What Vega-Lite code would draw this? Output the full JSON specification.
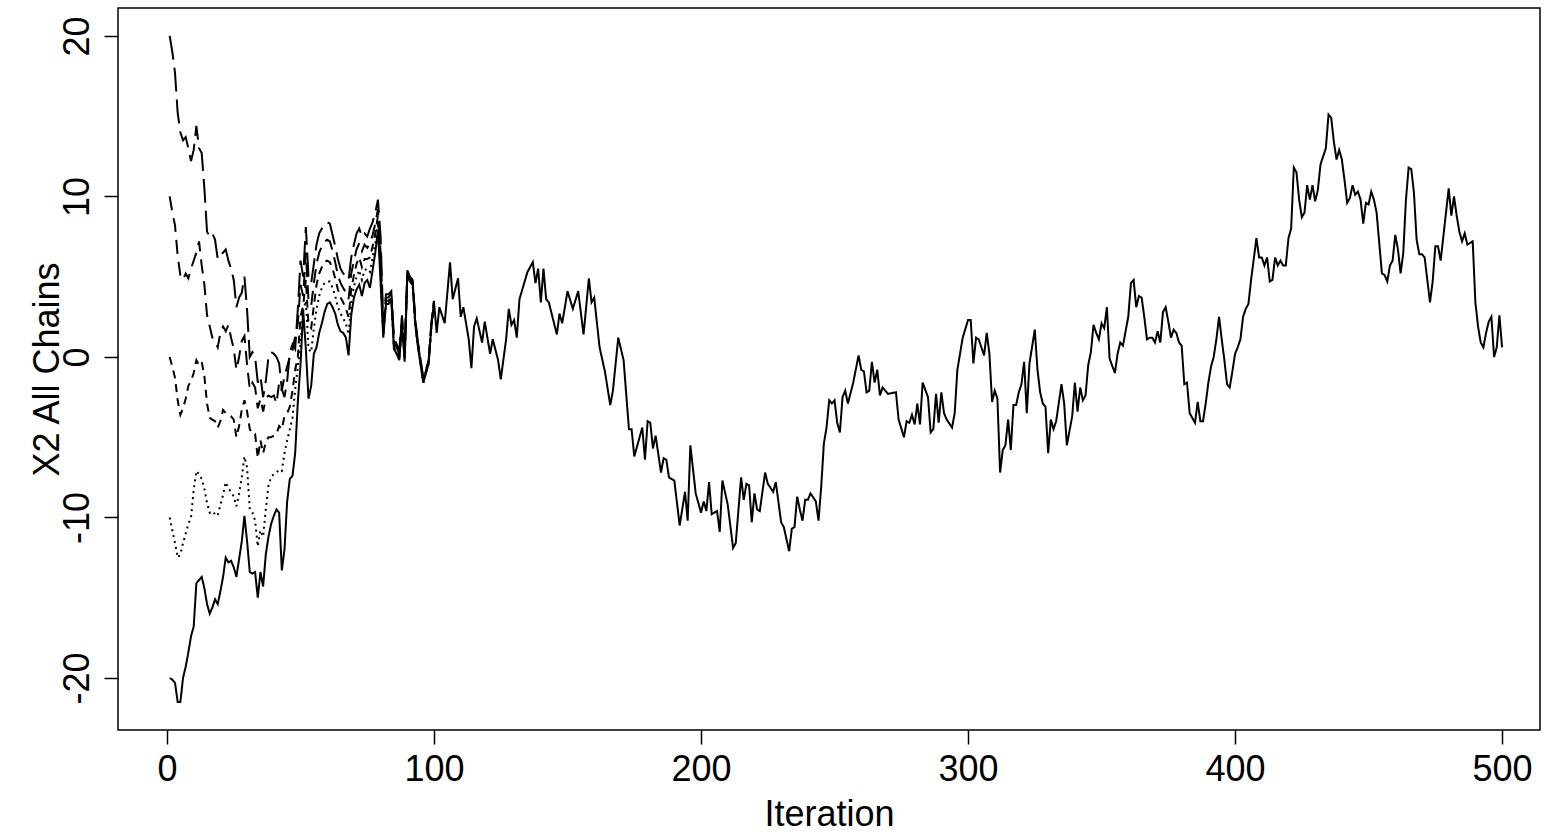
{
  "$schema": "https://vega.github.io/schema/vega-lite/v6.json",
  "width": 1422,
  "height": 722,
  "autosize": {"type": "none"},
  "padding": {"left": 118, "top": 8, "right": 18, "bottom": 105},
  "background": "white",
  "config": {
    "view": {"stroke": "black", "strokeWidth": 1.5},
    "font": "Liberation Sans",
    "axis": {"labelFont": "Liberation Sans", "titleFont": "Liberation Sans", "labelColor": "black", "titleColor": "black", "tickColor": "black", "labelFontSize": 36, "titleFontSize": 36, "titleFontWeight": "normal", "grid": false, "domain": false, "tickSize": 14, "tickWidth": 1.5}
  },
  "data": {"values": [
{"chain":"E","it":1,"x2":-20.0},{"chain":"E","it":2,"x2":-20.1},{"chain":"E","it":3,"x2":-20.3},{"chain":"E","it":4,"x2":-21.5},{"chain":"E","it":5,"x2":-21.5},{"chain":"E","it":6,"x2":-20.0},{"chain":"E","it":7,"x2":-19.3},{"chain":"E","it":8,"x2":-18.4},{"chain":"E","it":9,"x2":-17.4},{"chain":"E","it":10,"x2":-16.8},
{"chain":"E","it":11,"x2":-14.1},{"chain":"E","it":12,"x2":-13.9},{"chain":"E","it":13,"x2":-13.7},{"chain":"E","it":14,"x2":-14.4},{"chain":"E","it":15,"x2":-15.4},{"chain":"E","it":16,"x2":-16.0},{"chain":"E","it":17,"x2":-15.6},{"chain":"E","it":18,"x2":-15.1},{"chain":"E","it":19,"x2":-15.4},{"chain":"E","it":20,"x2":-14.6},
{"chain":"E","it":21,"x2":-13.7},{"chain":"E","it":22,"x2":-12.5},{"chain":"E","it":23,"x2":-12.8},{"chain":"E","it":24,"x2":-12.7},{"chain":"E","it":25,"x2":-13.1},{"chain":"E","it":26,"x2":-13.7},{"chain":"E","it":27,"x2":-12.6},{"chain":"E","it":28,"x2":-11.5},{"chain":"E","it":29,"x2":-9.9},{"chain":"E","it":30,"x2":-11.5},
{"chain":"E","it":31,"x2":-13.4},{"chain":"E","it":32,"x2":-13.5},{"chain":"E","it":33,"x2":-13.4},{"chain":"E","it":34,"x2":-15.0},{"chain":"E","it":35,"x2":-13.4},{"chain":"E","it":36,"x2":-14.3},{"chain":"E","it":37,"x2":-12.3},{"chain":"E","it":38,"x2":-11.2},{"chain":"E","it":39,"x2":-10.4},{"chain":"E","it":40,"x2":-9.9},
{"chain":"E","it":41,"x2":-9.5},{"chain":"E","it":42,"x2":-9.7},{"chain":"E","it":43,"x2":-13.3},{"chain":"E","it":44,"x2":-12.0},{"chain":"E","it":45,"x2":-9.0},{"chain":"E","it":46,"x2":-7.6},{"chain":"E","it":47,"x2":-7.4},{"chain":"E","it":48,"x2":-6.0},{"chain":"E","it":49,"x2":-2.8},{"chain":"E","it":50,"x2":-0.5},
{"chain":"E","it":51,"x2":2.9},{"chain":"E","it":52,"x2":0.5},{"chain":"E","it":53,"x2":-2.6},{"chain":"E","it":54,"x2":-1.8},{"chain":"E","it":55,"x2":0.2},{"chain":"E","it":56,"x2":0.6},{"chain":"E","it":57,"x2":1.5},{"chain":"E","it":58,"x2":2.1},{"chain":"E","it":59,"x2":2.8},{"chain":"E","it":60,"x2":3.3},
{"chain":"E","it":61,"x2":3.4},{"chain":"E","it":62,"x2":3.1},{"chain":"E","it":63,"x2":2.7},{"chain":"E","it":64,"x2":2.0},{"chain":"E","it":65,"x2":1.6},{"chain":"E","it":66,"x2":1.5},{"chain":"E","it":67,"x2":1.2},{"chain":"E","it":68,"x2":0.1},{"chain":"E","it":69,"x2":2.6},{"chain":"E","it":70,"x2":3.7},
{"chain":"E","it":71,"x2":4.2},{"chain":"E","it":72,"x2":4.5},{"chain":"E","it":73,"x2":3.8},{"chain":"E","it":74,"x2":4.6},{"chain":"E","it":75,"x2":4.8},{"chain":"E","it":76,"x2":4.3},{"chain":"E","it":77,"x2":5.4},{"chain":"E","it":78,"x2":6.5},{"chain":"E","it":79,"x2":7.9},{"chain":"E","it":80,"x2":4.6},
{"chain":"E","it":81,"x2":1.2},{"chain":"E","it":82,"x2":3.3},{"chain":"E","it":83,"x2":3.3},{"chain":"E","it":84,"x2":3.6},{"chain":"E","it":85,"x2":0.5},{"chain":"E","it":86,"x2":0.2},{"chain":"E","it":87,"x2":-0.2},{"chain":"E","it":88,"x2":2.1},{"chain":"E","it":89,"x2":-0.3},{"chain":"E","it":90,"x2":5.1},
{"chain":"E","it":91,"x2":4.7},{"chain":"E","it":92,"x2":4.5},{"chain":"E","it":93,"x2":2.0},{"chain":"E","it":94,"x2":0.6},{"chain":"E","it":96,"x2":-1.6},{"chain":"E","it":98,"x2":-0.4},{"chain":"E","it":99,"x2":1.9},{"chain":"E","it":100,"x2":3.4},
{"chain":"E","it":101,"x2":1.5},{"chain":"E","it":102,"x2":3.1},{"chain":"E","it":104,"x2":2.1},{"chain":"E","it":106,"x2":5.9},{"chain":"E","it":107,"x2":3.6},{"chain":"E","it":109,"x2":4.9},{"chain":"E","it":110,"x2":2.5},{"chain":"E","it":111,"x2":3.1},{"chain":"E","it":113,"x2":1.1},{"chain":"E","it":114,"x2":-0.7},
{"chain":"E","it":115,"x2":1.9},{"chain":"E","it":116,"x2":2.4},{"chain":"E","it":118,"x2":0.9},{"chain":"E","it":119,"x2":2.2},{"chain":"E","it":121,"x2":0.2},{"chain":"E","it":122,"x2":1.1},{"chain":"E","it":124,"x2":-0.2},{"chain":"E","it":125,"x2":-1.4},{"chain":"E","it":127,"x2":1.1},{"chain":"E","it":128,"x2":3.0},
{"chain":"E","it":129,"x2":2.0},{"chain":"E","it":130,"x2":2.3},{"chain":"E","it":131,"x2":1.2},{"chain":"E","it":132,"x2":3.6},{"chain":"E","it":135,"x2":5.3},{"chain":"E","it":137,"x2":5.9},{"chain":"E","it":138,"x2":4.6},{"chain":"E","it":139,"x2":5.5},{"chain":"E","it":140,"x2":3.4},{"chain":"E","it":141,"x2":5.5},
{"chain":"E","it":142,"x2":3.6},{"chain":"E","it":143,"x2":3.4},{"chain":"E","it":146,"x2":1.4},{"chain":"E","it":147,"x2":2.7},{"chain":"E","it":148,"x2":2.1},{"chain":"E","it":150,"x2":4.1},{"chain":"E","it":152,"x2":3.0},{"chain":"E","it":154,"x2":4.1},{"chain":"E","it":156,"x2":1.4},{"chain":"E","it":158,"x2":4.9},
{"chain":"E","it":159,"x2":3.4},{"chain":"E","it":160,"x2":3.7},{"chain":"E","it":162,"x2":0.6},{"chain":"E","it":164,"x2":-0.9},{"chain":"E","it":166,"x2":-3.0},{"chain":"E","it":167,"x2":-2.1},{"chain":"E","it":169,"x2":1.2},{"chain":"E","it":171,"x2":-0.2},{"chain":"E","it":173,"x2":-4.5},{"chain":"E","it":174,"x2":-4.5},
{"chain":"E","it":175,"x2":-6.2},{"chain":"E","it":176,"x2":-5.6},{"chain":"E","it":178,"x2":-4.4},{"chain":"E","it":179,"x2":-6.4},{"chain":"E","it":180,"x2":-4.0},{"chain":"E","it":181,"x2":-4.1},{"chain":"E","it":182,"x2":-5.7},{"chain":"E","it":183,"x2":-4.9},{"chain":"E","it":185,"x2":-7.2},{"chain":"E","it":186,"x2":-6.3},
{"chain":"E","it":187,"x2":-6.4},{"chain":"E","it":188,"x2":-7.5},{"chain":"E","it":190,"x2":-7.7},{"chain":"E","it":192,"x2":-10.5},{"chain":"E","it":194,"x2":-8.4},{"chain":"E","it":195,"x2":-10.2},{"chain":"E","it":196,"x2":-5.5},{"chain":"E","it":198,"x2":-8.5},{"chain":"E","it":200,"x2":-9.7},{"chain":"E","it":201,"x2":-9.0},
{"chain":"E","it":202,"x2":-9.6},{"chain":"E","it":203,"x2":-7.8},{"chain":"E","it":204,"x2":-9.8},{"chain":"E","it":206,"x2":-9.6},{"chain":"E","it":207,"x2":-10.9},{"chain":"E","it":208,"x2":-7.7},{"chain":"E","it":210,"x2":-9.2},{"chain":"E","it":212,"x2":-11.9},{"chain":"E","it":213,"x2":-11.6},{"chain":"E","it":215,"x2":-7.5},
{"chain":"E","it":216,"x2":-8.9},{"chain":"E","it":217,"x2":-7.9},{"chain":"E","it":218,"x2":-8.0},{"chain":"E","it":219,"x2":-10.3},{"chain":"E","it":220,"x2":-8.5},{"chain":"E","it":221,"x2":-9.5},{"chain":"E","it":222,"x2":-9.6},{"chain":"E","it":224,"x2":-7.2},{"chain":"E","it":225,"x2":-7.9},{"chain":"E","it":227,"x2":-8.4},
{"chain":"E","it":228,"x2":-7.8},{"chain":"E","it":230,"x2":-10.3},{"chain":"E","it":231,"x2":-10.6},{"chain":"E","it":233,"x2":-12.1},{"chain":"E","it":234,"x2":-10.7},{"chain":"E","it":235,"x2":-10.6},{"chain":"E","it":236,"x2":-8.7},{"chain":"E","it":237,"x2":-9.5},{"chain":"E","it":238,"x2":-10.2},{"chain":"E","it":239,"x2":-8.9},
{"chain":"E","it":240,"x2":-8.9},{"chain":"E","it":241,"x2":-8.5},{"chain":"E","it":243,"x2":-9.0},{"chain":"E","it":244,"x2":-10.2},{"chain":"E","it":245,"x2":-8.1},{"chain":"E","it":246,"x2":-5.4},{"chain":"E","it":247,"x2":-4.4},{"chain":"E","it":248,"x2":-2.7},{"chain":"E","it":249,"x2":-2.9},{"chain":"E","it":250,"x2":-2.7},
{"chain":"E","it":251,"x2":-4.1},{"chain":"E","it":252,"x2":-4.7},{"chain":"E","it":253,"x2":-2.5},{"chain":"E","it":254,"x2":-2.1},{"chain":"E","it":255,"x2":-2.9},{"chain":"E","it":257,"x2":-1.6},{"chain":"E","it":259,"x2":0.1},{"chain":"E","it":260,"x2":-0.8},{"chain":"E","it":261,"x2":-0.9},{"chain":"E","it":262,"x2":-2.2},
{"chain":"E","it":263,"x2":-2.1},{"chain":"E","it":264,"x2":-0.3},{"chain":"E","it":265,"x2":-1.6},{"chain":"E","it":266,"x2":-0.8},{"chain":"E","it":267,"x2":-2.4},{"chain":"E","it":268,"x2":-1.9},{"chain":"E","it":270,"x2":-2.3},{"chain":"E","it":273,"x2":-2.2},{"chain":"E","it":274,"x2":-3.9},{"chain":"E","it":276,"x2":-5.0},
{"chain":"E","it":277,"x2":-4.0},{"chain":"E","it":278,"x2":-4.1},{"chain":"E","it":279,"x2":-3.6},{"chain":"E","it":280,"x2":-4.2},{"chain":"E","it":281,"x2":-2.9},{"chain":"E","it":282,"x2":-4.2},{"chain":"E","it":283,"x2":-1.6},{"chain":"E","it":285,"x2":-2.5},{"chain":"E","it":286,"x2":-4.7},{"chain":"E","it":287,"x2":-4.5},
{"chain":"E","it":288,"x2":-2.3},{"chain":"E","it":289,"x2":-4.1},{"chain":"E","it":290,"x2":-2.2},{"chain":"E","it":291,"x2":-3.5},{"chain":"E","it":292,"x2":-3.9},{"chain":"E","it":294,"x2":-4.4},{"chain":"E","it":295,"x2":-3.5},{"chain":"E","it":296,"x2":-0.8},{"chain":"E","it":298,"x2":1.2},{"chain":"E","it":300,"x2":2.3},
{"chain":"E","it":301,"x2":2.3},{"chain":"E","it":302,"x2":-0.4},{"chain":"E","it":303,"x2":1.2},{"chain":"E","it":304,"x2":1.1},{"chain":"E","it":306,"x2":0.1},{"chain":"E","it":307,"x2":1.5},{"chain":"E","it":308,"x2":0.2},{"chain":"E","it":309,"x2":-2.8},{"chain":"E","it":310,"x2":-2.1},{"chain":"E","it":311,"x2":-2.6},
{"chain":"E","it":312,"x2":-7.2},{"chain":"E","it":313,"x2":-5.8},{"chain":"E","it":314,"x2":-5.5},{"chain":"E","it":315,"x2":-3.9},{"chain":"E","it":316,"x2":-5.8},{"chain":"E","it":317,"x2":-3.0},{"chain":"E","it":318,"x2":-3.0},{"chain":"E","it":319,"x2":-2.2},{"chain":"E","it":320,"x2":-1.7},{"chain":"E","it":321,"x2":-0.3},
{"chain":"E","it":322,"x2":-3.5},{"chain":"E","it":323,"x2":-0.4},{"chain":"E","it":325,"x2":1.7},{"chain":"E","it":326,"x2":-0.8},{"chain":"E","it":327,"x2":-2.2},{"chain":"E","it":328,"x2":-2.9},{"chain":"E","it":329,"x2":-3.1},{"chain":"E","it":330,"x2":-6.0},{"chain":"E","it":331,"x2":-3.9},{"chain":"E","it":332,"x2":-4.5},
{"chain":"E","it":333,"x2":-4.0},{"chain":"E","it":335,"x2":-1.7},{"chain":"E","it":336,"x2":-2.9},{"chain":"E","it":337,"x2":-5.5},{"chain":"E","it":339,"x2":-3.7},{"chain":"E","it":340,"x2":-1.6},{"chain":"E","it":341,"x2":-3.4},{"chain":"E","it":342,"x2":-1.9},{"chain":"E","it":343,"x2":-2.7},{"chain":"E","it":344,"x2":-2.4},
{"chain":"E","it":345,"x2":-0.5},{"chain":"E","it":346,"x2":0.3},{"chain":"E","it":347,"x2":2.0},{"chain":"E","it":348,"x2":1.5},{"chain":"E","it":349,"x2":1.1},{"chain":"E","it":350,"x2":2.1},{"chain":"E","it":351,"x2":1.8},{"chain":"E","it":352,"x2":3.1},{"chain":"E","it":353,"x2":-0.1},{"chain":"E","it":355,"x2":-1.0},
{"chain":"E","it":356,"x2":0.2},{"chain":"E","it":357,"x2":0.9},{"chain":"E","it":358,"x2":0.7},{"chain":"E","it":360,"x2":2.5},{"chain":"E","it":361,"x2":4.6},{"chain":"E","it":362,"x2":4.8},{"chain":"E","it":363,"x2":3.1},{"chain":"E","it":364,"x2":3.8},{"chain":"E","it":365,"x2":3.7},{"chain":"E","it":366,"x2":2.5},
{"chain":"E","it":367,"x2":1.1},{"chain":"E","it":368,"x2":1.2},{"chain":"E","it":369,"x2":1.2},{"chain":"E","it":370,"x2":0.9},{"chain":"E","it":371,"x2":1.6},{"chain":"E","it":372,"x2":0.9},{"chain":"E","it":373,"x2":2.8},{"chain":"E","it":374,"x2":3.1},{"chain":"E","it":375,"x2":2.2},{"chain":"E","it":376,"x2":1.2},
{"chain":"E","it":377,"x2":1.7},{"chain":"E","it":378,"x2":1.5},{"chain":"E","it":379,"x2":0.9},{"chain":"E","it":380,"x2":0.7},{"chain":"E","it":381,"x2":-1.7},{"chain":"E","it":382,"x2":-1.6},{"chain":"E","it":383,"x2":-3.5},{"chain":"E","it":384,"x2":-3.8},{"chain":"E","it":385,"x2":-4.1},{"chain":"E","it":386,"x2":-2.8},
{"chain":"E","it":387,"x2":-4.0},{"chain":"E","it":388,"x2":-4.0},{"chain":"E","it":389,"x2":-2.9},{"chain":"E","it":390,"x2":-1.6},{"chain":"E","it":391,"x2":-0.6},{"chain":"E","it":392,"x2":0.0},{"chain":"E","it":393,"x2":1.1},{"chain":"E","it":394,"x2":2.5},{"chain":"E","it":395,"x2":1.1},{"chain":"E","it":396,"x2":-0.2},
{"chain":"E","it":397,"x2":-1.7},{"chain":"E","it":398,"x2":-1.9},{"chain":"E","it":399,"x2":-0.9},{"chain":"E","it":400,"x2":0.2},{"chain":"E","it":401,"x2":0.6},{"chain":"E","it":402,"x2":1.1},{"chain":"E","it":403,"x2":2.5},{"chain":"E","it":404,"x2":3.0},{"chain":"E","it":405,"x2":3.3},{"chain":"E","it":406,"x2":4.8},
{"chain":"E","it":408,"x2":7.4},{"chain":"E","it":409,"x2":6.2},{"chain":"E","it":410,"x2":6.2},{"chain":"E","it":411,"x2":5.7},{"chain":"E","it":412,"x2":6.2},{"chain":"E","it":413,"x2":4.7},{"chain":"E","it":414,"x2":4.8},{"chain":"E","it":415,"x2":6.2},{"chain":"E","it":416,"x2":5.7},{"chain":"E","it":417,"x2":6.0},
{"chain":"E","it":418,"x2":5.7},{"chain":"E","it":419,"x2":5.7},{"chain":"E","it":420,"x2":7.4},{"chain":"E","it":421,"x2":8.0},{"chain":"E","it":422,"x2":11.8},{"chain":"E","it":423,"x2":11.5},{"chain":"E","it":424,"x2":9.8},{"chain":"E","it":425,"x2":8.7},{"chain":"E","it":426,"x2":9.0},{"chain":"E","it":427,"x2":10.7},
{"chain":"E","it":428,"x2":9.8},{"chain":"E","it":429,"x2":10.7},{"chain":"E","it":430,"x2":9.7},{"chain":"E","it":431,"x2":10.4},{"chain":"E","it":432,"x2":12.0},{"chain":"E","it":433,"x2":12.5},{"chain":"E","it":434,"x2":13.0},{"chain":"E","it":435,"x2":15.1},{"chain":"E","it":436,"x2":14.9},{"chain":"E","it":437,"x2":13.4},
{"chain":"E","it":438,"x2":12.3},{"chain":"E","it":439,"x2":12.9},{"chain":"E","it":440,"x2":12.3},{"chain":"E","it":441,"x2":11.0},{"chain":"E","it":442,"x2":9.6},{"chain":"E","it":443,"x2":9.9},{"chain":"E","it":444,"x2":10.7},{"chain":"E","it":445,"x2":10.1},{"chain":"E","it":446,"x2":10.3},{"chain":"E","it":447,"x2":9.8},
{"chain":"E","it":448,"x2":8.3},{"chain":"E","it":449,"x2":9.6},{"chain":"E","it":450,"x2":9.5},{"chain":"E","it":451,"x2":10.3},{"chain":"E","it":452,"x2":9.8},{"chain":"E","it":453,"x2":9.0},{"chain":"E","it":454,"x2":7.1},{"chain":"E","it":455,"x2":5.2},{"chain":"E","it":456,"x2":5.1},{"chain":"E","it":457,"x2":4.7},
{"chain":"E","it":458,"x2":5.7},{"chain":"E","it":459,"x2":6.0},{"chain":"E","it":460,"x2":7.6},{"chain":"E","it":461,"x2":6.7},{"chain":"E","it":462,"x2":5.2},{"chain":"E","it":463,"x2":6.5},{"chain":"E","it":464,"x2":9.8},{"chain":"E","it":465,"x2":11.8},{"chain":"E","it":466,"x2":11.7},{"chain":"E","it":467,"x2":10.2},
{"chain":"E","it":468,"x2":7.3},{"chain":"E","it":469,"x2":6.4},{"chain":"E","it":470,"x2":6.4},{"chain":"E","it":471,"x2":6.2},{"chain":"E","it":472,"x2":4.8},{"chain":"E","it":473,"x2":3.4},{"chain":"E","it":474,"x2":4.7},{"chain":"E","it":475,"x2":6.9},{"chain":"E","it":476,"x2":6.9},{"chain":"E","it":477,"x2":6.0},
{"chain":"E","it":478,"x2":7.5},{"chain":"E","it":479,"x2":9.0},{"chain":"E","it":480,"x2":10.5},{"chain":"E","it":481,"x2":8.8},{"chain":"E","it":482,"x2":10.0},{"chain":"E","it":483,"x2":8.8},{"chain":"E","it":484,"x2":7.8},{"chain":"E","it":485,"x2":7.2},{"chain":"E","it":486,"x2":7.7},{"chain":"E","it":487,"x2":7.0},
{"chain":"E","it":488,"x2":7.1},{"chain":"E","it":489,"x2":7.2},{"chain":"E","it":490,"x2":3.4},{"chain":"E","it":491,"x2":1.9},{"chain":"E","it":492,"x2":0.9},{"chain":"E","it":493,"x2":0.6},{"chain":"E","it":494,"x2":1.5},{"chain":"E","it":495,"x2":2.2},{"chain":"E","it":496,"x2":2.5},{"chain":"E","it":497,"x2":0.0},
{"chain":"E","it":498,"x2":0.6},{"chain":"E","it":499,"x2":2.6},{"chain":"E","it":500,"x2":0.6},

{"chain":"A","it":1,"x2":20.0},{"chain":"A","it":2,"x2":19.0},{"chain":"A","it":3,"x2":17.7},{"chain":"A","it":4,"x2":15.2},{"chain":"A","it":5,"x2":14.0},{"chain":"A","it":6,"x2":13.5},{"chain":"A","it":7,"x2":13.7},{"chain":"A","it":8,"x2":13.0},{"chain":"A","it":9,"x2":12.2},{"chain":"A","it":10,"x2":12.9},
{"chain":"A","it":11,"x2":14.4},{"chain":"A","it":12,"x2":13.0},{"chain":"A","it":13,"x2":12.7},{"chain":"A","it":14,"x2":10.5},{"chain":"A","it":15,"x2":7.8},{"chain":"A","it":16,"x2":7.5},{"chain":"A","it":17,"x2":7.7},{"chain":"A","it":18,"x2":7.3},{"chain":"A","it":19,"x2":6.1},{"chain":"A","it":20,"x2":6.4},
{"chain":"A","it":21,"x2":6.5},{"chain":"A","it":22,"x2":6.7},{"chain":"A","it":23,"x2":6.0},{"chain":"A","it":24,"x2":5.5},{"chain":"A","it":25,"x2":4.8},{"chain":"A","it":26,"x2":3.1},{"chain":"A","it":27,"x2":3.7},{"chain":"A","it":28,"x2":4.0},{"chain":"A","it":29,"x2":5.0},{"chain":"A","it":30,"x2":2.9},
{"chain":"A","it":31,"x2":0.0},{"chain":"A","it":32,"x2":0.3},{"chain":"A","it":33,"x2":0.0},{"chain":"A","it":34,"x2":-1.6},{"chain":"A","it":35,"x2":-1.2},{"chain":"A","it":36,"x2":-2.5},{"chain":"A","it":37,"x2":-1.5},{"chain":"A","it":38,"x2":0.0},{"chain":"A","it":39,"x2":0.3},{"chain":"A","it":40,"x2":0.2},
{"chain":"A","it":41,"x2":0.0},{"chain":"A","it":42,"x2":-0.4},{"chain":"A","it":43,"x2":-2.0},{"chain":"A","it":44,"x2":-2.5},{"chain":"A","it":45,"x2":-1.5},{"chain":"A","it":46,"x2":0.3},{"chain":"A","it":47,"x2":0.8},{"chain":"A","it":48,"x2":0.5},{"chain":"A","it":49,"x2":3.0},{"chain":"A","it":50,"x2":6.0},
{"chain":"A","it":51,"x2":5.0},{"chain":"A","it":52,"x2":8.1},{"chain":"A","it":53,"x2":5.0},{"chain":"A","it":54,"x2":4.6},{"chain":"A","it":55,"x2":5.8},{"chain":"A","it":56,"x2":7.0},{"chain":"A","it":57,"x2":7.7},{"chain":"A","it":58,"x2":8.0},{"chain":"A","it":59,"x2":8.3},{"chain":"A","it":60,"x2":8.4},
{"chain":"A","it":61,"x2":8.3},{"chain":"A","it":62,"x2":7.6},{"chain":"A","it":63,"x2":6.9},{"chain":"A","it":64,"x2":6.1},{"chain":"A","it":65,"x2":5.5},{"chain":"A","it":66,"x2":5.2},{"chain":"A","it":67,"x2":5.0},{"chain":"A","it":68,"x2":4.8},{"chain":"A","it":69,"x2":6.2},{"chain":"A","it":70,"x2":7.0},
{"chain":"A","it":71,"x2":7.7},{"chain":"A","it":72,"x2":8.0},{"chain":"A","it":73,"x2":7.5},{"chain":"A","it":74,"x2":7.7},{"chain":"A","it":75,"x2":7.5},{"chain":"A","it":76,"x2":8.0},{"chain":"A","it":77,"x2":8.4},{"chain":"A","it":78,"x2":9.0},{"chain":"A","it":79,"x2":9.8},{"chain":"A","it":80,"x2":7.5},
{"chain":"A","it":81,"x2":2.0},{"chain":"A","it":82,"x2":3.9},{"chain":"A","it":83,"x2":3.9},{"chain":"A","it":84,"x2":4.1},{"chain":"A","it":85,"x2":1.2},{"chain":"A","it":86,"x2":0.8},{"chain":"A","it":87,"x2":0.4},{"chain":"A","it":88,"x2":2.6},{"chain":"A","it":89,"x2":0.2},{"chain":"A","it":90,"x2":5.4},
{"chain":"A","it":91,"x2":5.0},{"chain":"A","it":92,"x2":4.8},{"chain":"A","it":93,"x2":2.3},{"chain":"A","it":94,"x2":0.9},{"chain":"A","it":96,"x2":-1.3},{"chain":"A","it":98,"x2":-0.2},{"chain":"A","it":99,"x2":2.1},{"chain":"A","it":100,"x2":3.5},

{"chain":"B","it":1,"x2":10.0},{"chain":"B","it":2,"x2":9.0},{"chain":"B","it":3,"x2":8.2},{"chain":"B","it":4,"x2":6.3},{"chain":"B","it":5,"x2":5.1},{"chain":"B","it":6,"x2":4.8},{"chain":"B","it":7,"x2":5.2},{"chain":"B","it":8,"x2":4.9},{"chain":"B","it":9,"x2":5.5},{"chain":"B","it":10,"x2":6.0},
{"chain":"B","it":11,"x2":6.5},{"chain":"B","it":12,"x2":7.2},{"chain":"B","it":13,"x2":5.7},{"chain":"B","it":14,"x2":4.5},{"chain":"B","it":15,"x2":2.6},{"chain":"B","it":16,"x2":1.9},{"chain":"B","it":17,"x2":1.2},{"chain":"B","it":18,"x2":1.0},{"chain":"B","it":19,"x2":0.6},{"chain":"B","it":20,"x2":1.5},
{"chain":"B","it":21,"x2":1.9},{"chain":"B","it":22,"x2":1.6},{"chain":"B","it":23,"x2":2.0},{"chain":"B","it":24,"x2":1.2},{"chain":"B","it":25,"x2":0.5},{"chain":"B","it":26,"x2":-0.8},{"chain":"B","it":27,"x2":0.0},{"chain":"B","it":28,"x2":1.0},{"chain":"B","it":29,"x2":1.3},{"chain":"B","it":30,"x2":-0.5},
{"chain":"B","it":31,"x2":-2.0},{"chain":"B","it":32,"x2":-1.6},{"chain":"B","it":33,"x2":-1.9},{"chain":"B","it":34,"x2":-3.2},{"chain":"B","it":35,"x2":-2.6},{"chain":"B","it":36,"x2":-3.4},{"chain":"B","it":37,"x2":-2.6},{"chain":"B","it":38,"x2":-2.4},{"chain":"B","it":39,"x2":-2.5},{"chain":"B","it":40,"x2":-2.4},
{"chain":"B","it":41,"x2":-2.9},{"chain":"B","it":42,"x2":-1.6},{"chain":"B","it":43,"x2":-2.1},{"chain":"B","it":44,"x2":-1.2},{"chain":"B","it":45,"x2":-0.6},{"chain":"B","it":46,"x2":0.0},{"chain":"B","it":47,"x2":0.4},{"chain":"B","it":48,"x2":1.3},{"chain":"B","it":49,"x2":2.1},{"chain":"B","it":50,"x2":4.5},
{"chain":"B","it":51,"x2":3.8},{"chain":"B","it":52,"x2":6.5},{"chain":"B","it":53,"x2":3.5},{"chain":"B","it":54,"x2":3.2},{"chain":"B","it":55,"x2":4.6},{"chain":"B","it":56,"x2":5.8},{"chain":"B","it":57,"x2":6.5},{"chain":"B","it":58,"x2":6.9},{"chain":"B","it":59,"x2":7.2},{"chain":"B","it":60,"x2":7.3},
{"chain":"B","it":61,"x2":7.2},{"chain":"B","it":62,"x2":6.6},{"chain":"B","it":63,"x2":5.9},{"chain":"B","it":64,"x2":5.1},{"chain":"B","it":65,"x2":4.6},{"chain":"B","it":66,"x2":4.3},{"chain":"B","it":67,"x2":4.0},{"chain":"B","it":68,"x2":3.6},{"chain":"B","it":69,"x2":5.2},{"chain":"B","it":70,"x2":6.0},
{"chain":"B","it":71,"x2":6.7},{"chain":"B","it":72,"x2":7.1},{"chain":"B","it":73,"x2":6.6},{"chain":"B","it":74,"x2":7.0},{"chain":"B","it":75,"x2":6.8},{"chain":"B","it":76,"x2":7.1},{"chain":"B","it":77,"x2":7.6},{"chain":"B","it":78,"x2":8.3},{"chain":"B","it":79,"x2":9.2},{"chain":"B","it":80,"x2":6.5},
{"chain":"B","it":81,"x2":1.7},{"chain":"B","it":82,"x2":3.7},{"chain":"B","it":83,"x2":3.7},{"chain":"B","it":84,"x2":4.0},{"chain":"B","it":85,"x2":0.9},{"chain":"B","it":86,"x2":0.6},{"chain":"B","it":87,"x2":0.2},{"chain":"B","it":88,"x2":2.4},{"chain":"B","it":89,"x2":0.0},{"chain":"B","it":90,"x2":5.3},
{"chain":"B","it":91,"x2":4.9},{"chain":"B","it":92,"x2":4.7},{"chain":"B","it":93,"x2":2.2},{"chain":"B","it":94,"x2":0.8},{"chain":"B","it":96,"x2":-1.4},{"chain":"B","it":98,"x2":-0.3},{"chain":"B","it":99,"x2":2.0},{"chain":"B","it":100,"x2":3.5},

{"chain":"C","it":1,"x2":0.0},{"chain":"C","it":2,"x2":-0.6},{"chain":"C","it":3,"x2":-1.3},{"chain":"C","it":4,"x2":-2.7},{"chain":"C","it":5,"x2":-3.6},{"chain":"C","it":6,"x2":-3.2},{"chain":"C","it":7,"x2":-2.6},{"chain":"C","it":8,"x2":-1.8},{"chain":"C","it":9,"x2":-1.5},{"chain":"C","it":10,"x2":-1.0},
{"chain":"C","it":11,"x2":-0.2},{"chain":"C","it":12,"x2":-0.5},{"chain":"C","it":13,"x2":-0.3},{"chain":"C","it":14,"x2":-1.2},{"chain":"C","it":15,"x2":-2.9},{"chain":"C","it":16,"x2":-3.8},{"chain":"C","it":17,"x2":-3.9},{"chain":"C","it":18,"x2":-4.0},{"chain":"C","it":19,"x2":-4.4},{"chain":"C","it":20,"x2":-4.0},
{"chain":"C","it":21,"x2":-3.3},{"chain":"C","it":22,"x2":-3.5},{"chain":"C","it":23,"x2":-3.6},{"chain":"C","it":24,"x2":-3.7},{"chain":"C","it":25,"x2":-3.9},{"chain":"C","it":26,"x2":-5.0},{"chain":"C","it":27,"x2":-4.3},{"chain":"C","it":28,"x2":-3.3},{"chain":"C","it":29,"x2":-2.7},{"chain":"C","it":30,"x2":-3.4},
{"chain":"C","it":31,"x2":-4.5},{"chain":"C","it":32,"x2":-4.8},{"chain":"C","it":33,"x2":-4.8},{"chain":"C","it":34,"x2":-6.3},{"chain":"C","it":35,"x2":-5.2},{"chain":"C","it":36,"x2":-6.0},{"chain":"C","it":37,"x2":-5.3},{"chain":"C","it":38,"x2":-5.0},{"chain":"C","it":39,"x2":-5.0},{"chain":"C","it":40,"x2":-4.9},
{"chain":"C","it":41,"x2":-4.8},{"chain":"C","it":42,"x2":-4.3},{"chain":"C","it":43,"x2":-4.5},{"chain":"C","it":44,"x2":-3.7},{"chain":"C","it":45,"x2":-3.5},{"chain":"C","it":46,"x2":-3.1},{"chain":"C","it":47,"x2":-2.1},{"chain":"C","it":48,"x2":-0.8},{"chain":"C","it":49,"x2":0.0},{"chain":"C","it":50,"x2":2.5},
{"chain":"C","it":51,"x2":3.2},{"chain":"C","it":52,"x2":4.8},{"chain":"C","it":53,"x2":2.0},{"chain":"C","it":54,"x2":1.8},{"chain":"C","it":55,"x2":3.2},{"chain":"C","it":56,"x2":4.5},{"chain":"C","it":57,"x2":5.2},{"chain":"C","it":58,"x2":5.6},{"chain":"C","it":59,"x2":5.9},{"chain":"C","it":60,"x2":6.0},
{"chain":"C","it":61,"x2":5.9},{"chain":"C","it":62,"x2":5.5},{"chain":"C","it":63,"x2":4.9},{"chain":"C","it":64,"x2":4.2},{"chain":"C","it":65,"x2":3.7},{"chain":"C","it":66,"x2":3.4},{"chain":"C","it":67,"x2":3.0},{"chain":"C","it":68,"x2":2.5},{"chain":"C","it":69,"x2":4.2},{"chain":"C","it":70,"x2":5.1},
{"chain":"C","it":71,"x2":5.8},{"chain":"C","it":72,"x2":6.2},{"chain":"C","it":73,"x2":5.6},{"chain":"C","it":74,"x2":6.1},{"chain":"C","it":75,"x2":6.1},{"chain":"C","it":76,"x2":6.2},{"chain":"C","it":77,"x2":6.9},{"chain":"C","it":78,"x2":7.7},{"chain":"C","it":79,"x2":8.8},{"chain":"C","it":80,"x2":5.8},
{"chain":"C","it":81,"x2":1.5},{"chain":"C","it":82,"x2":3.5},{"chain":"C","it":83,"x2":3.5},{"chain":"C","it":84,"x2":3.8},{"chain":"C","it":85,"x2":0.7},{"chain":"C","it":86,"x2":0.4},{"chain":"C","it":87,"x2":0.0},{"chain":"C","it":88,"x2":2.3},{"chain":"C","it":89,"x2":-0.1},{"chain":"C","it":90,"x2":5.2},
{"chain":"C","it":91,"x2":4.8},{"chain":"C","it":92,"x2":4.6},{"chain":"C","it":93,"x2":2.1},{"chain":"C","it":94,"x2":0.7},{"chain":"C","it":96,"x2":-1.5},{"chain":"C","it":98,"x2":-0.3},{"chain":"C","it":99,"x2":2.0},{"chain":"C","it":100,"x2":3.4},

{"chain":"D","it":1,"x2":-10.0},{"chain":"D","it":2,"x2":-10.8},{"chain":"D","it":3,"x2":-11.6},{"chain":"D","it":4,"x2":-12.5},{"chain":"D","it":5,"x2":-12.3},{"chain":"D","it":6,"x2":-11.6},{"chain":"D","it":7,"x2":-11.0},{"chain":"D","it":8,"x2":-10.4},{"chain":"D","it":9,"x2":-10.0},{"chain":"D","it":10,"x2":-8.3},
{"chain":"D","it":11,"x2":-7.1},{"chain":"D","it":12,"x2":-7.3},{"chain":"D","it":13,"x2":-7.6},{"chain":"D","it":14,"x2":-8.2},{"chain":"D","it":15,"x2":-9.1},{"chain":"D","it":16,"x2":-9.7},{"chain":"D","it":17,"x2":-9.6},{"chain":"D","it":18,"x2":-9.8},{"chain":"D","it":19,"x2":-9.9},{"chain":"D","it":20,"x2":-9.2},
{"chain":"D","it":21,"x2":-8.6},{"chain":"D","it":22,"x2":-7.8},{"chain":"D","it":23,"x2":-8.2},{"chain":"D","it":24,"x2":-8.4},{"chain":"D","it":25,"x2":-8.7},{"chain":"D","it":26,"x2":-9.3},{"chain":"D","it":27,"x2":-8.5},{"chain":"D","it":28,"x2":-7.5},{"chain":"D","it":29,"x2":-6.2},{"chain":"D","it":30,"x2":-6.9},
{"chain":"D","it":31,"x2":-9.5},{"chain":"D","it":32,"x2":-9.7},{"chain":"D","it":33,"x2":-10.2},{"chain":"D","it":34,"x2":-11.8},{"chain":"D","it":35,"x2":-10.8},{"chain":"D","it":36,"x2":-11.2},{"chain":"D","it":37,"x2":-9.5},{"chain":"D","it":38,"x2":-8.0},{"chain":"D","it":39,"x2":-7.5},{"chain":"D","it":40,"x2":-7.3},
{"chain":"D","it":41,"x2":-7.2},{"chain":"D","it":42,"x2":-7.0},{"chain":"D","it":43,"x2":-7.1},{"chain":"D","it":44,"x2":-6.0},{"chain":"D","it":45,"x2":-5.2},{"chain":"D","it":46,"x2":-4.5},{"chain":"D","it":47,"x2":-3.8},{"chain":"D","it":48,"x2":-2.0},{"chain":"D","it":49,"x2":-0.6},{"chain":"D","it":50,"x2":0.8},
{"chain":"D","it":51,"x2":2.9},{"chain":"D","it":52,"x2":3.5},{"chain":"D","it":53,"x2":0.5},{"chain":"D","it":54,"x2":0.3},{"chain":"D","it":55,"x2":1.8},{"chain":"D","it":56,"x2":3.0},{"chain":"D","it":57,"x2":3.8},{"chain":"D","it":58,"x2":4.3},{"chain":"D","it":59,"x2":4.6},{"chain":"D","it":60,"x2":4.7},
{"chain":"D","it":61,"x2":4.7},{"chain":"D","it":62,"x2":4.3},{"chain":"D","it":63,"x2":3.8},{"chain":"D","it":64,"x2":3.1},{"chain":"D","it":65,"x2":2.7},{"chain":"D","it":66,"x2":2.4},{"chain":"D","it":67,"x2":2.1},{"chain":"D","it":68,"x2":1.4},{"chain":"D","it":69,"x2":3.4},{"chain":"D","it":70,"x2":4.4},
{"chain":"D","it":71,"x2":5.0},{"chain":"D","it":72,"x2":5.4},{"chain":"D","it":73,"x2":4.8},{"chain":"D","it":74,"x2":5.4},{"chain":"D","it":75,"x2":5.5},{"chain":"D","it":76,"x2":5.3},{"chain":"D","it":77,"x2":6.2},{"chain":"D","it":78,"x2":7.1},{"chain":"D","it":79,"x2":8.4},{"chain":"D","it":80,"x2":5.2},
{"chain":"D","it":81,"x2":1.3},{"chain":"D","it":82,"x2":3.4},{"chain":"D","it":83,"x2":3.4},{"chain":"D","it":84,"x2":3.7},{"chain":"D","it":85,"x2":0.6},{"chain":"D","it":86,"x2":0.3},{"chain":"D","it":87,"x2":-0.1},{"chain":"D","it":88,"x2":2.2},{"chain":"D","it":89,"x2":-0.2},{"chain":"D","it":90,"x2":5.1},
{"chain":"D","it":91,"x2":4.7},{"chain":"D","it":92,"x2":4.5},{"chain":"D","it":93,"x2":2.0},{"chain":"D","it":94,"x2":0.6},{"chain":"D","it":96,"x2":-1.6},{"chain":"D","it":98,"x2":-0.4},{"chain":"D","it":99,"x2":1.9},{"chain":"D","it":100,"x2":3.4}
  ]},
  "mark": {"type": "line", "color": "black", "strokeWidth": 2, "clip": true},
  "encoding": {
    "x": {"field": "it", "type": "quantitative", "scale": {"domain": [-18.35, 514.2], "nice": false, "zero": false}, "axis": {"values": [0, 100, 200, 300, 400, 500], "title": "Iteration", "labelPadding": 8, "titlePadding": 10}},
    "y": {"field": "x2", "type": "quantitative", "scale": {"domain": [-23.24, 21.74], "nice": false, "zero": false}, "axis": {"values": [-20, -10, 0, 10, 20], "labelExpr": "'' + datum.value", "title": "X2 All Chains", "labelAngle": 270, "labelAlign": "center", "labelBaseline": "alphabetic", "labelPadding": 16, "titleX": -60, "titleY": 361, "titleAngle": 270, "titleAlign": "center", "titleBaseline": "alphabetic"}},
    "strokeDash": {"field": "chain", "type": "nominal", "scale": {"domain": ["A", "B", "C", "D", "E"], "range": [[24, 8], [14, 8], [8, 6], [2, 4], [1, 0]]}, "legend": null},
    "order": {"field": "it", "type": "quantitative"}
  }
}
